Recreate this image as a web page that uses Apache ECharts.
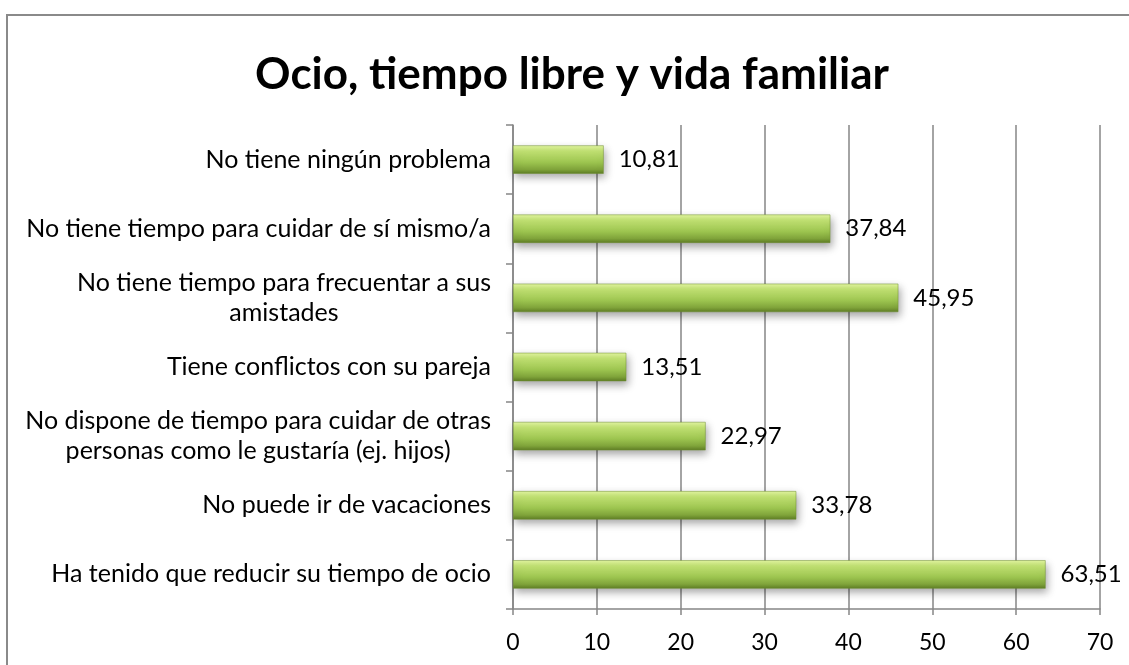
<!DOCTYPE html>
<html>
<head>
<meta charset="utf-8">
<script src="https://cdn.jsdelivr.net/npm/echarts@6/dist/echarts.min.js"></script>
<style>html,body{margin:0;padding:0;background:#fff}#c{width:1129px;height:665px}</style>
</head>
<body>
<div id="c"></div>
<script>
const categories = [
  "Ha tenido que reducir su tiempo de ocio",
  "No puede ir de vacaciones",
  "No dispone de tiempo para cuidar de otras\npersonas como le gustaría (ej. hijos)",
  "Tiene conflictos con su pareja",
  "No tiene tiempo para frecuentar a sus\namistades",
  "No tiene tiempo para cuidar de sí mismo/a",
  "No tiene ningún problema"
];
const values = [63.51, 33.78, 22.97, 13.51, 45.95, 37.84, 10.81];
const xTicks = [0, 10, 20, 30, 40, 50, 60, 70];

const FONT = "Lato";
const chart = echarts.init(document.getElementById('c'), null, {renderer: 'canvas'});
chart.setOption({
  animation: false,
  backgroundColor: '#fff',
  title: {
    text: 'Ocio, tiempo libre y vida familiar',
    left: 567, top: 48, textAlign: 'center',
    textStyle: {fontFamily: FONT, fontWeight: 'bold', fontSize: 44, color: '#000'}
  },
  graphic: [{
    type: 'rect', shape: {x: 7, y: 15, width: 1200, height: 800},
    style: {fill: 'none', stroke: '#8a8a8a', lineWidth: 2}, silent: true
  }],
  grid: {left: 513, right: 29, top: 125, bottom: 56, containLabel: false},
  xAxis: {
    type: 'value', min: xTicks[0], max: xTicks[xTicks.length - 1], interval: 10,
    axisLine: {show: true, lineStyle: {color: '#868686', width: 1.5}},
    axisTick: {show: true, length: 6, lineStyle: {color: '#868686', width: 1.5}},
    splitLine: {show: true, lineStyle: {color: '#868686', width: 1.5}},
    axisLabel: {fontFamily: FONT, fontSize: 23, color: '#000', margin: 22}
  },
  yAxis: {
    type: 'category', data: categories,
    axisLine: {show: true, lineStyle: {color: '#868686', width: 1.5}},
    axisTick: {show: true, length: 7, lineStyle: {color: '#868686', width: 1.5}},
    axisLabel: {
      margin: 22, align: 'right',
      formatter: function (v) {
        return v.split('\n').map(function (l) { return '{c|' + l + '}'; }).join('\n');
      },
      rich: {c: {fontFamily: FONT, fontSize: 25, color: '#000', align: 'center', lineHeight: 30}}
    }
  },
  series: [{
    type: 'bar', data: values, barCategoryGap: '59%',
    itemStyle: {
      color: new echarts.graphic.LinearGradient(0, 0, 0, 1, [
        {offset: 0, color: '#e2f5a0'},
        {offset: 0.2, color: '#c2e273'},
        {offset: 0.6, color: '#9cc44f'},
        {offset: 0.85, color: '#7fa33a'},
        {offset: 1, color: '#5e7d25'}
      ]),
      borderColor: '#6f8f30', borderWidth: 0.5,
      shadowColor: 'rgba(0,0,0,0.35)', shadowBlur: 8, shadowOffsetX: 2, shadowOffsetY: 4
    },
    label: {
      show: true, position: 'right', distance: 15,
      fontFamily: FONT, fontSize: 24, color: '#000',
      formatter: function (p) { return p.value.toFixed(2).replace('.', ','); }
    }
  }]
});
</script>
</body>
</html>
